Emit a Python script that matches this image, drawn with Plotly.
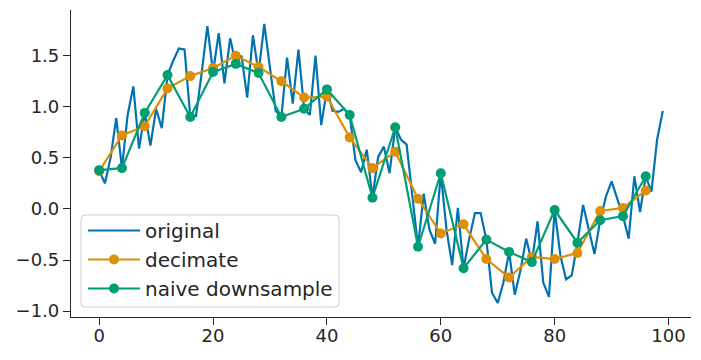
import plotly.graph_objects as go

# ---- data ----
x_original = list(range(100))
original = [0.38, 0.25, 0.50, 0.89, 0.40, 0.92, 1.20, 0.59, 0.94, 0.62,
            0.98, 0.79, 1.31, 1.45, 1.57, 1.56, 0.90, 0.91, 1.33, 1.79,
            1.34, 1.72, 1.23, 1.67, 1.42, 1.50, 1.09, 1.70, 1.33, 1.81,
            1.38, 0.96, 0.90, 1.48, 1.03, 1.56, 0.98, 0.92, 1.50, 0.82,
            1.17, 0.96, 0.95, 0.98, 0.92, 0.48, 0.36, 0.58, 0.11, 0.51,
            0.61, 0.35, 0.80, 0.68, 0.63, 0.10, -0.37, 0.15, -0.20, -0.34,
            0.35, -0.20, -0.55, 0.01, -0.58, -0.29, -0.04, -0.04, -0.30, -0.82,
            -0.92, -0.72, -0.42, -0.84, -0.60, -0.29, -0.52, -0.12, -0.72, -0.86,
            -0.01, -0.45, -0.69, -0.65, -0.33, 0.04, -0.21, -0.44, -0.11, 0.12,
            0.27, 0.09, -0.07, -0.29, 0.32, -0.03, 0.32, 0.17, 0.68, 0.96]

x_down = list(range(0, 100, 4))
decimate = [0.37, 0.72, 0.81, 1.18, 1.30, 1.38, 1.50, 1.39, 1.25, 1.09,
            1.10, 0.70, 0.40, 0.56, 0.10, -0.24, -0.15, -0.49, -0.67, -0.47,
            -0.49, -0.43, -0.02, 0.01, 0.18]
naive = [0.38, 0.40, 0.94, 1.31, 0.90, 1.34, 1.42, 1.33, 0.90, 0.98,
         1.17, 0.92, 0.11, 0.80, -0.37, 0.35, -0.58, -0.30, -0.42, -0.52,
         -0.01, -0.33, -0.11, -0.07, 0.32]

x_ticks = [0, 20, 40, 60, 80, 100]
y_ticks = [-1.0, -0.5, 0.0, 0.5, 1.0, 1.5]

# ---- styling ----
W, H = 701, 360
ML, MR, MT, MB = 71, 10, 10, 43
BLUE, ORANGE, GREEN = "#0173b2", "#de8f05", "#029e73"
INK = "#262626"
FONT = "DejaVu Sans"

fig = go.Figure()
fig.add_trace(go.Scatter(x=x_original, y=original, mode="lines", name="original",
                         line=dict(color=BLUE, width=2.2)))
fig.add_trace(go.Scatter(x=x_down, y=decimate, mode="lines+markers", name="decimate",
                         line=dict(color=ORANGE, width=2.2),
                         marker=dict(color=ORANGE, size=10)))
fig.add_trace(go.Scatter(x=x_down, y=naive, mode="lines+markers", name="naive downsample",
                         line=dict(color=GREEN, width=2.2),
                         marker=dict(color=GREEN, size=10)))

# rounded legend frame (pixel box converted to paper coords)
pw, ph = W - ML - MR, H - MT - MB
def px(x): return (x - ML) / pw
def py(y): return (H - MB - y) / ph
x0, x1, y0, y1, r = 81, 339, 215, 307, 4
path = (f"M {px(x0 + r)},{py(y0)} L {px(x1 - r)},{py(y0)} "
        f"Q {px(x1)},{py(y0)} {px(x1)},{py(y0 + r)} L {px(x1)},{py(y1 - r)} "
        f"Q {px(x1)},{py(y1)} {px(x1 - r)},{py(y1)} L {px(x0 + r)},{py(y1)} "
        f"Q {px(x0)},{py(y1)} {px(x0)},{py(y1 - r)} L {px(x0)},{py(y0 + r)} "
        f"Q {px(x0)},{py(y0)} {px(x0 + r)},{py(y0)} Z")
fig.add_shape(type="path", path=path, xref="paper", yref="paper",
              line=dict(color="#cccccc", width=1), fillcolor="rgba(255,255,255,0.8)",
              layer="above")

fig.update_layout(
    width=W, height=H,
    margin=dict(l=ML, r=MR, t=MT, b=MB, autoexpand=False),
    paper_bgcolor="white", plot_bgcolor="white",
    font=dict(family=FONT, size=18, color=INK),
    showlegend=True,
    legend=dict(x=px(x0 + 2), y=py(y1 + 1), xanchor="left", yanchor="bottom",
                bgcolor="rgba(0,0,0,0)", borderwidth=0, itemwidth=52,
                font=dict(family=FONT, size=20, color=INK)),
    xaxis=dict(range=[-4.95, 103.95], tickvals=x_ticks, showgrid=False, zeroline=False,
               showline=True, linecolor=INK, linewidth=1.25, automargin=False,
               ticks="outside", ticklen=7, tickwidth=1.25, tickcolor=INK,
               ticklabelstandoff=-5,
               tickfont=dict(family=FONT, size=18, color=INK)),
    yaxis=dict(range=[-1.057, 1.947], tickvals=y_ticks, tickformat=".1f",
               showgrid=False, zeroline=False, automargin=False,
               showline=True, linecolor=INK, linewidth=1.25,
               ticks="outside", ticklen=7, tickwidth=1.25, tickcolor=INK,
               tickfont=dict(family=FONT, size=18, color=INK)),
)

fig.write_html("out.html", config={"displayModeBar": False},
               post_script="document.body.style.margin='0';document.body.style.padding='0';")
